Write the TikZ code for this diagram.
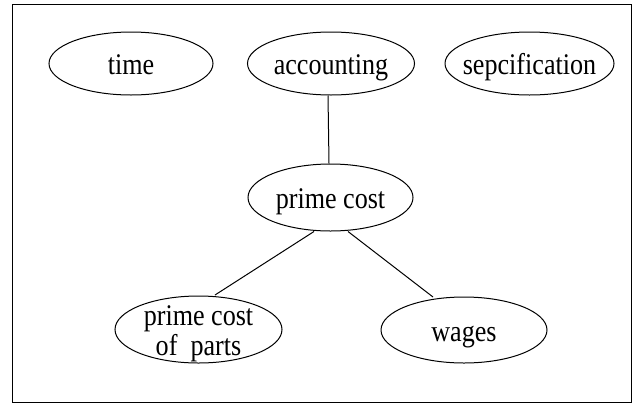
\documentclass[tikz,border=0pt]{standalone}
\usepackage{fontspec}
\setmainfont{Liberation Serif}[FakeStretch=0.87]
\usetikzlibrary{shapes.geometric}
\begin{document}
\begin{tikzpicture}[x=1pt,y=-1pt,
  concept/.style={draw, ellipse, line width=1pt, inner sep=0pt},
  tag/.style={text height=22pt, text depth=0pt},
  link/.style={line width=1pt},
  font=\fontsize{30}{30}\selectfont]
\useasboundingbox (0,0) rectangle (637,405);
\draw[line width=1.4pt] (12.5,4.5) rectangle (631.5,402.5);

% upper row of concepts
\node[concept, minimum width=164pt, minimum height=63pt, label={[tag]center:time}] (time) at (131,63.5) {};
\node[concept, minimum width=167pt, minimum height=63pt, label={[tag]center:accounting}] (acc) at (331,63.5) {};
\node[concept, minimum width=169pt, minimum height=63pt, label={[tag]center:sepcification}] (spec) at (529.5,63.5) {};

% middle and lower concepts
\node[concept, minimum width=165pt, minimum height=67pt, label={[tag]center:prime cost}] (pc) at (330.5,197.5) {};
\node[concept, minimum width=167pt, minimum height=67pt,
  label={[align=center,yshift=-4pt]center:prime cost\\of~ parts}] (parts) at (198.5,329.5) {};
\node[concept, minimum width=166pt, minimum height=66pt, label={[tag]center:wages}] (wages) at (464,330) {};

% connectors
\draw[link] ([xshift=-3pt]acc.south) -- ([xshift=-1.5pt]pc.north);
\draw[link] ([xshift=-16.5pt]pc.south) -- ([xshift=16.5pt,yshift=0.5pt]parts.north);
\draw[link] ([xshift=17.5pt]pc.south) -- ([xshift=-31pt,yshift=-0.5pt]wages.north);
\end{tikzpicture}
\end{document}
